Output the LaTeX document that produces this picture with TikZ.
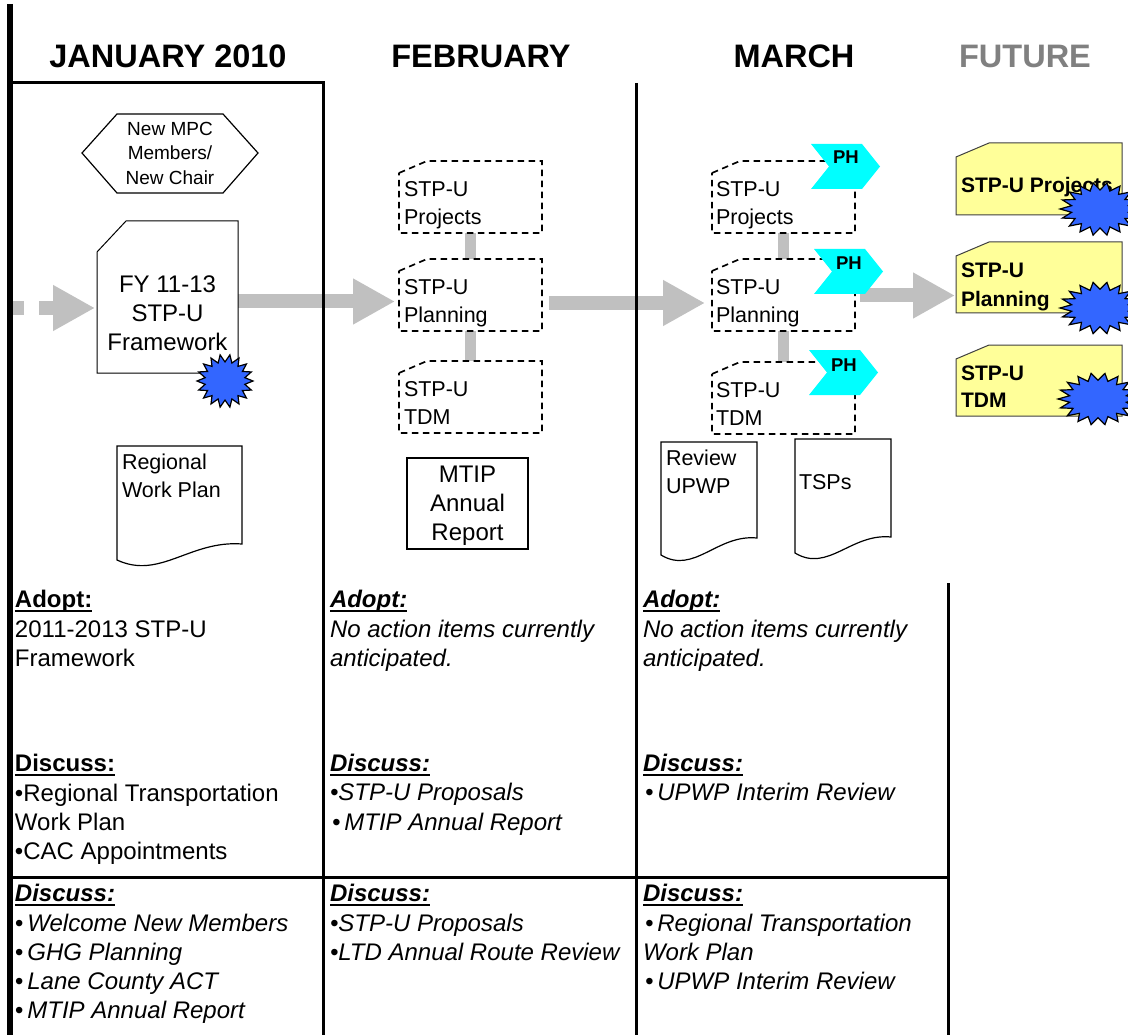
\documentclass[tikz,border=0pt]{standalone}
\usepackage{fontspec}
\setmainfont{Liberation Sans}
\usetikzlibrary{arrows.meta}
\definecolor{arrowgray}{RGB}{192,192,192}
\definecolor{starblue}{RGB}{51,102,255}
\definecolor{phcyan}{RGB}{0,255,255}
\definecolor{futyellow}{RGB}{255,255,153}
\definecolor{futgray}{RGB}{128,128,128}
\newcommand\fsz[2]{\fontsize{#1}{#2}\selectfont}
\newsavebox\ulbox
\newcommand\myul[1]{\sbox\ulbox{#1}\rlap{\rule[-4.5pt]{\wd\ulbox}{2pt}}\usebox\ulbox}
\newcommand\cutbox[4]{\draw[#1] ([yshift=-#3]#2.north west) -- ([xshift=#4]#2.north west) -- (#2.north east) -- (#2.south east) -- (#2.south west) -- cycle;}
\newcommand\chev[3]{\fill[phcyan] (#1,#2) -- (#1+51,#2) -- (#1+69,{(#2+#3)/2}) -- (#1+51,#3) -- (#1,#3) -- (#1+18,{(#2+#3)/2}) -- cycle;}
\newcommand\burst[4]{\draw[burstst] plot[samples at={0,...,35}] ({#1+#3*(0.86+0.14*cos(\x*180))*cos(\x*10)},{#2+#4*(0.86+0.14*cos(\x*180))*sin(\x*10)}) -- cycle;}
\newcommand\docshape[5]{\draw[shapeline, fill=white] (#1,#3) -- (#2,#3) -- (#2,#4) .. controls ({#1+0.584*(#2-#1)},{#4-4}) and ({#1+0.344*(#2-#1)},{#5+20}) .. (#1,#5) -- cycle;}
\tikzset{
  every node/.style={inner sep=0pt, outer sep=0pt},
  colline/.style={line width=3pt},
  hdr/.style={anchor=base, font=\fsz{32.5}{39}\bfseries},
  body/.style={anchor=base west, font=\fsz{24}{29}},
  bodyb/.style={anchor=base west, font=\fsz{24}{29}\bfseries},
  bodyi/.style={anchor=base west, font=\fsz{24}{29}\itshape},
  bodybi/.style={anchor=base west, font=\fsz{24}{29}\bfseries\itshape},
  ctrtxt/.style={anchor=base, font=\fsz{24}{29}},
  hextxt/.style={anchor=base, font=\fsz{19}{24}},
  boxtxt/.style={anchor=base west, font=\fsz{21.5}{28}},
  futtxt/.style={anchor=base west, font=\fsz{21}{27}\bfseries},
  phtxt/.style={anchor=base, font=\fsz{18.5}{22}\bfseries},
  shapeline/.style={draw=black, line width=1.2pt},
  dashbox/.style={draw=black, line width=1.7pt, dash pattern=on 6.5pt off 4.5pt},
  fut/.style={fill=futyellow, draw=black!75, line width=1pt},
  flow/.style={draw=arrowgray, line width=14pt, -{Triangle[length=42pt,width=43pt]}},
  link/.style={draw=arrowgray, line width=11pt},
  burstst/.style={draw=black, line width=1.2pt, fill=starblue},
  boxnode/.style={anchor=north west, minimum width=#1},
}
\begin{document}
\begin{tikzpicture}[x=1pt,y=-1pt]
\useasboundingbox (0,0) rectangle (1128,1035);
\fill[white] (0,0) rectangle (1128,1035);

% headers
\node[hdr] (hjan) at (168,68) {JANUARY 2010};
\node[hdr] (hfeb) at (481,68) {FEBRUARY};
\node[hdr] (hmar) at (794,68) {MARCH};
\node[hdr, text=futgray] (hfut) at (1025,68) {FUTURE};

% box nodes
\node[boxnode=141pt, minimum height=152pt] (fy) at (97,221) {};
\node[boxnode=143pt, minimum height=72pt] (fp1) at (399,161) {};
\node[boxnode=143pt, minimum height=72pt] (fp2) at (399,259) {};
\node[boxnode=143pt, minimum height=72pt] (fp3) at (399,361) {};
\node[boxnode=143pt, minimum height=72pt] (mp1) at (712,161) {};
\node[boxnode=143pt, minimum height=72pt] (mp2) at (712,259) {};
\node[boxnode=143pt, minimum height=72pt] (mp3) at (712,362) {};
\node[boxnode=166pt, minimum height=72pt] (fu1) at (956,143) {};
\node[boxnode=166pt, minimum height=71pt] (fu2) at (956,242) {};
\node[boxnode=166pt, minimum height=71pt] (fu3) at (956,345) {};
\node[boxnode=121pt, minimum height=91pt, draw, line width=1.4pt] (mtip) at (407,458) {};

% gray flow arrows
\coordinate (lstart) at (10,308);
\coordinate (yj) at (0,301.5);
\coordinate (yf) at (0,303);
\coordinate (ym) at (0,295.5);
\draw[flow, dash pattern=on 14pt off 15pt, shorten >=2pt] (lstart) -- (fy.west |- lstart);
\draw[flow, shorten >=4pt] (fy.east |- yj) -- (fp2.west |- yj);
\draw[flow, shorten <=7pt, shorten >=7pt] (fp2.east |- yf) -- (mp2.west |- yf);
\draw[flow, shorten <=5pt, shorten >=1pt] (mp2.east |- ym) -- (fu2.west |- ym);

% links between stacked boxes
\draw[link] (fp1.south) -- (fp2.north);
\draw[link] (fp2.south) -- (fp3.north);
\draw[link] (mp1.south) -- (mp2.north);
\draw[link] (mp2.south) -- (mp3.north);

% column rules
\draw[line width=6pt] (10,4) -- (10,1035);
\draw[colline] (10,83) -- (323,83) -- (323,1035);
\draw[colline] (636,83) -- (636,1035);
\draw[colline] (948,583) -- (948,1035);
\draw[colline] (10,877) -- (948,877);

% hexagon
\draw[shapeline, fill=white] (82,153) -- (117,114) -- (223,114) -- (258,153) -- (223,193) -- (117,193) -- cycle;
\node[hextxt] (hx1) at (170,135.5) {New MPC};
\node[hextxt] (hx2) at (170,160) {Members/};
\node[hextxt] (hx3) at (170,184.5) {New Chair};

% FY framework box
\cutbox{shapeline, line width=1pt, fill=white}{fy}{31pt}{29pt}
\node[ctrtxt] (fyt1) at (167.5,293) {FY 11-13};
\node[ctrtxt] (fyt2) at (167.5,322) {STP-U};
\node[ctrtxt] (fyt3) at (167.5,350) {Framework};
\burst{225}{381}{28}{26.5}

% documents
\docshape{117}{242}{446}{544}{560}
\node[boxtxt] (rw1) at (122,469) {Regional};
\node[boxtxt] (rw2) at (122,497) {Work Plan};
\docshape{661}{757}{442}{538}{555}
\node[boxtxt] (ru1) at (666,465) {Review};
\node[boxtxt] (ru2) at (666,493) {UPWP};
\docshape{795}{891}{439}{537}{553}
\node[boxtxt] (ts1) at (799,489) {TSPs};

% MTIP
\node[ctrtxt] (mt1) at (467.5,482) {MTIP};
\node[ctrtxt] (mt2) at (467.5,511) {Annual};
\node[ctrtxt] (mt3) at (467.5,540) {Report};

% February dashed boxes
\cutbox{dashbox}{fp1}{12pt}{28pt}
\cutbox{dashbox}{fp2}{12pt}{28pt}
\cutbox{dashbox}{fp3}{12pt}{28pt}
\node[boxtxt] (fp1a) at ([xshift=5pt,yshift=-35.5pt]fp1.north west) {STP-U};
\node[boxtxt] (fp1b) at ([xshift=5pt,yshift=-63.5pt]fp1.north west) {Projects};
\node[boxtxt] (fp2a) at ([xshift=5pt,yshift=-35.5pt]fp2.north west) {STP-U};
\node[boxtxt] (fp2b) at ([xshift=5pt,yshift=-63.5pt]fp2.north west) {Planning};
\node[boxtxt] (fp3a) at ([xshift=5pt,yshift=-35.5pt]fp3.north west) {STP-U};
\node[boxtxt] (fp3b) at ([xshift=5pt,yshift=-63.5pt]fp3.north west) {TDM};

% March dashed boxes
\cutbox{dashbox}{mp1}{12pt}{28pt}
\cutbox{dashbox}{mp2}{12pt}{28pt}
\cutbox{dashbox}{mp3}{12pt}{28pt}
\node[boxtxt] (mp1a) at ([xshift=4pt,yshift=-35.5pt]mp1.north west) {STP-U};
\node[boxtxt] (mp1b) at ([xshift=4pt,yshift=-63.5pt]mp1.north west) {Projects};
\node[boxtxt] (mp2a) at ([xshift=4pt,yshift=-35.5pt]mp2.north west) {STP-U};
\node[boxtxt] (mp2b) at ([xshift=4pt,yshift=-63.5pt]mp2.north west) {Planning};
\node[boxtxt] (mp3a) at ([xshift=4pt,yshift=-35.5pt]mp3.north west) {STP-U};
\node[boxtxt] (mp3b) at ([xshift=4pt,yshift=-63.5pt]mp3.north west) {TDM};

% PH chevrons
\chev{811}{144}{189}
\node[phtxt] (ph1) at (846,164) {PH};
\chev{814}{249}{294}
\node[phtxt] (ph2) at (849,270) {PH};
\chev{809}{350}{395}
\node[phtxt] (ph3) at (844,371) {PH};

% Future boxes
\cutbox{fut}{fu1}{14pt}{33pt}
\cutbox{fut}{fu2}{14pt}{33pt}
\cutbox{fut}{fu3}{14pt}{33pt}
\node[futtxt] (fu1a) at (961,193) {STP-U Projects};
\node[futtxt] (fu2a) at (961,278) {STP-U};
\node[futtxt] (fu2b) at (961,306) {Planning};
\node[futtxt] (fu3a) at (961,380) {STP-U};
\node[futtxt] (fu3b) at (961,407) {TDM};
\burst{1100}{209}{40}{26.5}
\burst{1100}{308}{40}{26}
\burst{1098}{399}{40}{26}

% January texts
\node[bodyb] (ja0) at (15,607) {\myul{Adopt:}};
\node[body] (ja1) at (15,637) {2011-2013 STP-U};
\node[body] (ja2) at (15,666) {Framework};
\node[bodyb] (jd0) at (15,771) {\myul{Discuss:}};
\node[body] (jd1) at (15,801) {•Regional Transportation};
\node[body] (jd2) at (15,830) {Work Plan};
\node[body] (jd3) at (15,859) {•CAC Appointments};
\node[bodybi] (jr0) at (15,901) {\myul{Discuss:}};
\node[bodyi] (jr1) at (15,931) {•\,Welcome New Members};
\node[bodyi] (jr2) at (15,960) {•\,GHG Planning};
\node[bodyi] (jr3) at (15,989) {•\,Lane County ACT};
\node[bodyi] (jr4) at (15,1018) {•\,MTIP Annual Report};

% February texts
\node[bodybi] (fa0) at (330,607) {\myul{Adopt:}};
\node[bodyi] (fa1) at (330,637) {No action items currently};
\node[bodyi] (fa2) at (330,666) {anticipated.};
\node[bodybi] (fd0) at (330,771) {\myul{Discuss:}};
\node[bodyi] (fd1) at (330,800) {•STP-U Proposals};
\node[bodyi] (fd2) at (332,830) {•\,MTIP Annual Report};
\node[bodybi] (fr0) at (330,901) {\myul{Discuss:}};
\node[bodyi] (fr1) at (330,931) {•STP-U Proposals};
\node[bodyi] (fr2) at (330,960) {•LTD Annual Route Review};

% March texts
\node[bodybi] (ma0) at (643,607) {\myul{Adopt:}};
\node[bodyi] (ma1) at (643,637) {No action items currently};
\node[bodyi] (ma2) at (643,666) {anticipated.};
\node[bodybi] (md0) at (643,771) {\myul{Discuss:}};
\node[bodyi] (md1) at (645,800) {•\,UPWP Interim Review};
\node[bodybi] (mr0) at (643,901) {\myul{Discuss:}};
\node[bodyi] (mr1) at (645,931) {•\,Regional Transportation};
\node[bodyi] (mr2) at (643,960) {Work Plan};
\node[bodyi] (mr3) at (645,989) {•\,UPWP Interim Review};
\end{tikzpicture}
\end{document}
